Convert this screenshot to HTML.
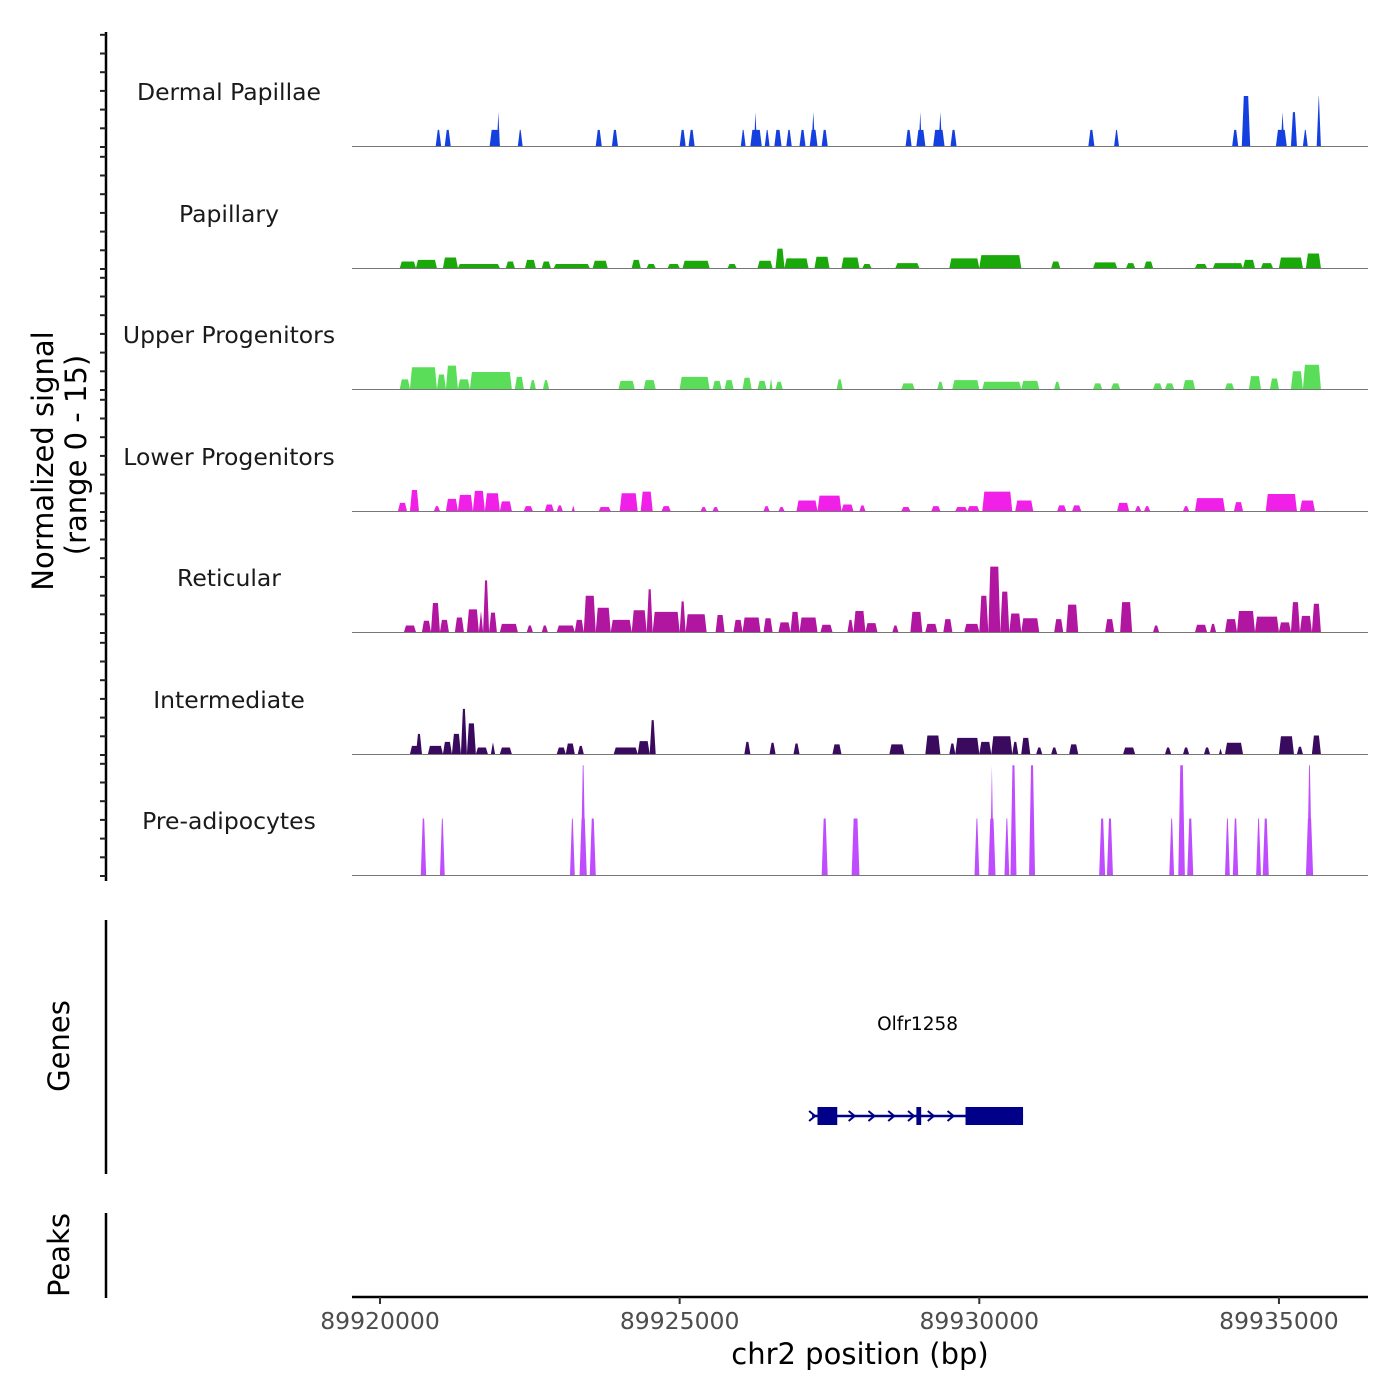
<!DOCTYPE html>
<html><head><meta charset="utf-8"><style>
body{margin:0;background:#fff}
svg{display:block;font-family:"DejaVu Sans","Liberation Sans",sans-serif}
</style></head><body>
<svg id="chart" width="1400" height="1400" viewBox="0 0 1400 1400">
<g id="left-axes"></g>
<g id="tracks"></g>
<g id="genes"></g>
<g id="xaxis"></g>
<text x="0" y="0" transform="translate(53,461) rotate(-90)" text-anchor="middle" font-size="29" fill="#000">Normalized signal</text>
<text x="0" y="0" transform="translate(86,455) rotate(-90)" text-anchor="middle" font-size="29" fill="#000">(range 0 - 15)</text>
<text x="0" y="0" transform="translate(69,1046) rotate(-90)" text-anchor="middle" font-size="29" fill="#000">Genes</text>
<text x="0" y="0" transform="translate(69,1255) rotate(-90)" text-anchor="middle" font-size="29" fill="#000">Peaks</text>
<text x="860" y="1364" text-anchor="middle" font-size="29" fill="#000">chr2 position (bp)</text>
</svg>
<script>
// data (positions in kb offset from 89920000, values 0-15)
const trackNames=["Dermal Papillae","Papillary","Upper Progenitors","Lower Progenitors","Reticular","Intermediate","Pre-adipocytes"];
const trackColors=["#1440e0","#1aa80a","#5ade5a","#f020e8","#b0169f","#3a0a5e","#bf4dff"];
const dermal=[[0.93,1.02,2],[1.08,1.18,2],[1.83,2.0,2],[1.95,2.0,4.2],[2.3,2.38,2],[3.6,3.7,2],[3.87,3.97,2],[5.0,5.1,2],[5.15,5.25,2],[6.02,6.1,2],[6.18,6.37,2],[6.24,6.29,4.2],[6.42,6.5,2],[6.58,6.7,2],[6.78,6.87,2],[7.0,7.1,2],[7.17,7.3,2],[7.2,7.26,4.2],[7.37,7.47,2],[8.77,8.87,2],[8.95,9.1,2],[8.99,9.04,4.2],[9.23,9.42,2],[9.32,9.38,4.2],[9.52,9.62,2],[11.82,11.92,2],[12.25,12.33,2],[14.22,14.32,2],[14.38,14.52,6.2],[14.95,15.13,2],[15.03,15.09,4.2],[15.2,15.3,4.2],[15.4,15.48,2],[15.63,15.7,6.2]];
const papillary=[[0.33,0.6,0.8],[0.6,0.95,1],[1.05,1.3,1.3],[1.3,2.0,0.5],[2.1,2.25,0.8],[2.42,2.6,1.0],[2.7,2.85,0.8],[2.9,3.5,0.5],[3.55,3.8,0.9],[4.2,4.35,1.0],[4.45,4.6,0.5],[4.8,5.0,0.5],[5.05,5.5,0.9],[5.8,5.95,0.5],[6.3,6.55,0.9],[6.6,6.75,2.4],[6.75,7.15,1.2],[7.25,7.5,1.4],[7.7,8.0,1.3],[8.05,8.2,0.5],[8.6,9.0,0.6],[9.5,10.0,1.2],[10.0,10.7,1.6],[11.2,11.35,0.8],[11.9,12.3,0.7],[12.45,12.6,0.6],[12.75,12.9,0.8],[13.6,13.8,0.5],[13.9,14.4,0.6],[14.4,14.6,1.0],[14.7,14.9,0.6],[15.0,15.4,1.3],[15.45,15.7,1.8]];
const upper=[[0.33,0.5,1.2],[0.5,0.95,2.7],[0.95,1.1,1.8],[1.1,1.3,2.9],[1.3,1.5,1.2],[1.5,2.2,2.1],[2.25,2.4,1.5],[2.5,2.6,1.1],[2.72,2.82,1.1],[3.98,4.25,1.0],[4.4,4.6,1.1],[5.0,5.5,1.5],[5.55,5.7,1.0],[5.75,5.9,1.1],[6.05,6.2,1.4],[6.3,6.45,1.0],[6.5,6.55,1.3],[6.6,6.72,0.9],[7.62,7.72,1.2],[8.7,8.92,0.7],[9.3,9.4,0.9],[9.55,10.0,1.1],[10.05,10.7,0.9],[10.7,11.0,1.0],[11.25,11.35,0.9],[11.9,12.05,0.7],[12.2,12.35,0.7],[12.9,13.05,0.7],[13.1,13.25,0.7],[13.4,13.6,1.1],[14.1,14.25,0.7],[14.5,14.7,1.6],[14.85,15.0,1.3],[15.2,15.4,2.2],[15.4,15.7,3.0]];
const lower=[[0.3,0.45,1.0],[0.5,0.65,2.6],[0.9,1.0,0.6],[1.1,1.3,1.5],[1.3,1.55,2.0],[1.55,1.75,2.5],[1.75,2.0,2.2],[2.0,2.2,1.2],[2.4,2.55,0.6],[2.75,2.9,0.8],[2.95,3.05,0.7],[3.2,3.25,0.7],[3.65,3.85,0.5],[4.0,4.3,2.2],[4.35,4.55,2.4],[4.7,4.85,0.6],[5.35,5.45,0.5],[5.55,5.65,0.5],[6.4,6.5,0.6],[6.65,6.75,0.5],[6.95,7.3,1.3],[7.3,7.7,1.9],[7.7,7.9,0.8],[8.0,8.1,0.7],[8.7,8.85,0.5],[9.2,9.35,0.6],[9.6,9.8,0.5],[9.8,10.0,0.6],[10.05,10.55,2.4],[10.6,10.9,1.3],[11.3,11.45,0.7],[11.55,11.7,0.7],[12.3,12.5,1.0],[12.6,12.7,0.6],[12.75,12.85,0.6],[13.4,13.5,0.6],[13.6,14.1,1.6],[14.25,14.4,1.1],[14.78,15.3,2.1],[15.15,15.25,0.7],[15.35,15.6,1.3]];
const reticular=[[0.4,0.6,0.8],[0.7,0.85,1.4],[0.85,1.0,3.6],[1.0,1.15,1.5],[1.25,1.4,1.8],[1.45,1.65,2.8],[1.65,1.72,2.5],[1.72,1.82,6.4],[1.82,1.95,2.4],[2.0,2.3,1.0],[2.45,2.55,0.8],[2.7,2.8,0.8],[2.95,3.25,0.8],[3.25,3.4,1.5],[3.4,3.6,4.5],[3.6,3.85,3.0],[3.85,4.2,1.5],[4.2,4.45,2.7],[4.45,4.55,5.3],[4.55,5.0,2.5],[5.0,5.1,3.8],[5.1,5.45,2.2],[5.6,5.75,2.1],[5.9,6.05,1.5],[6.05,6.35,1.8],[6.4,6.55,1.7],[6.65,6.85,1.2],[6.85,7.0,2.5],[7.0,7.3,1.8],[7.35,7.55,0.9],[7.8,7.9,1.5],[7.9,8.1,2.6],[8.1,8.3,1.1],[8.55,8.65,0.8],[8.85,9.05,2.5],[9.1,9.3,1.0],[9.4,9.55,1.6],[9.75,10.0,1.0],[10.0,10.15,4.5],[10.15,10.35,8.1],[10.35,10.5,5.0],[10.5,10.7,2.3],[10.7,11.0,1.7],[11.25,11.4,1.6],[11.45,11.65,3.4],[12.1,12.25,1.6],[12.35,12.55,3.7],[12.9,13.0,0.8],[13.6,13.8,0.9],[13.85,13.95,1.0],[14.1,14.3,1.6],[14.3,14.6,2.6],[14.6,15.0,1.9],[15.0,15.2,1.2],[15.2,15.35,3.7],[15.35,15.55,2.0],[15.55,15.7,3.5]];
const intermediate=[[0.5,0.7,1.0],[0.6,0.7,2.5],[0.8,1.05,1.0],[1.05,1.2,1.5],[1.2,1.35,2.5],[1.35,1.45,5.6],[1.45,1.6,3.8],[1.6,1.8,0.8],[1.85,1.92,1.4],[2.0,2.2,0.8],[2.95,3.1,0.8],[3.1,3.25,1.3],[3.3,3.4,1.0],[3.9,4.3,0.8],[4.3,4.5,1.6],[4.5,4.6,4.2],[6.08,6.18,1.5],[6.5,6.6,1.4],[6.9,7.0,1.3],[7.55,7.7,1.2],[8.5,8.75,1.2],[9.1,9.35,2.3],[9.5,9.6,1.3],[9.6,10.0,2.0],[10.0,10.2,1.5],[10.2,10.55,2.2],[10.55,10.65,1.5],[10.7,10.85,2.0],[10.95,11.05,0.8],[11.2,11.3,0.8],[11.5,11.65,1.2],[12.4,12.6,0.8],[13.1,13.2,0.8],[13.4,13.5,0.8],[13.75,13.85,0.8],[14.0,14.05,0.7],[14.1,14.4,1.4],[15.0,15.25,2.2],[15.3,15.4,0.9],[15.55,15.7,2.3]];
const preadipo=[[0.68,0.77,7],[1.0,1.08,7],[3.17,3.25,7],[3.33,3.45,7],[3.35,3.43,13.6],[3.5,3.6,7],[7.37,7.47,7],[7.87,8.0,7],[9.92,10.0,7],[10.15,10.27,7],[10.18,10.24,13.6],[10.42,10.5,7],[10.52,10.62,13.6],[10.83,10.93,13.6],[12.0,12.1,7],[12.13,12.23,7],[13.17,13.25,7],[13.32,13.43,13.6],[13.47,13.57,7],[14.1,14.18,7],[14.23,14.32,7],[14.62,14.7,7],[14.73,14.83,7],[15.45,15.57,7],[15.47,15.55,13.6]];
const trackData=[dermal,papillary,upper,lower,reticular,intermediate,preadipo];
const xTicks=[89920000,89925000,89930000,89935000];
const geneName="Olfr1258";
const geneRange=[7.21,10.73];
const geneExons=[[7.3,7.63],[8.95,9.03],[9.77,10.73]];

const NS="http://www.w3.org/2000/svg";
const svg=document.getElementById('chart');
function mk(tag,attrs,parent){const e=document.createElementNS(NS,tag);for(const k in attrs)e.setAttribute(k,attrs[k]);parent.appendChild(e);return e;}
const X0=380,PXKB=59.93;
function xs(kb){return X0+kb*PXKB;}
const baselines=[146,268,389,511,632,754,875];
const PXU=121/15;
function ys(i,v){return baselines[i]-v*PXU;}

const gT=document.getElementById('tracks');
trackData.forEach((arr,i)=>{
  const g=mk('g',{},gT);
  
  
  const lab=mk('text',{x:229,y:baselines[i]-46,'text-anchor':'middle','font-size':23.5,fill:'#1a1a1a'},g);
  lab.textContent=trackNames[i];
  
  
  arr.forEach(p=>{
    const a=xs(p[0]),b=xs(p[1]),d=Math.min(2,(b-a)/2),yb=baselines[i],yt=ys(i,p[2]);
    const poly=mk('polygon',{points:`${a},${yb} ${a+d},${yt} ${b-d},${yt} ${b},${yb}`,fill:trackColors[i]},g);
    
    
  });
  const bl=mk('line',{x1:352,x2:1368,y1:baselines[i]+0.5,y2:baselines[i]+0.5,stroke:'#777','stroke-width':1},g);
  
  
});

// left axes
const gL=document.getElementById('left-axes');
mk('line',{x1:106,x2:106,y1:32,y2:881,stroke:'#000','stroke-width':2.5},gL);
for(let i=0;i<7;i++){for(let k=0;k<7;k++){const y=baselines[i]+1-k*18.7;if(y<33)continue;mk('line',{x1:100,x2:106,y1:y,y2:y,stroke:'#222','stroke-width':2},gL);}}
mk('line',{x1:106,x2:106,y1:920,y2:1174,stroke:'#000','stroke-width':2.5},gL);
mk('line',{x1:106,x2:106,y1:1213,y2:1298,stroke:'#000','stroke-width':2.5},gL);

// gene
const gG=document.getElementById('genes');
const gl=mk('text',{x:xs((geneRange[0]+geneRange[1])/2),y:1030,'text-anchor':'middle','font-size':18.5,fill:'#000'},gG);
gl.textContent=geneName;


const gy=1116;
const gline=mk('line',{x1:xs(geneRange[0]),x2:xs(geneRange[1]),y1:gy,y2:gy,stroke:'#000088','stroke-width':2.5},gG);


for(let k=geneRange[0];k<geneRange[1];k+=0.33){const x=xs(k);mk('polyline',{points:`${x-3},${gy-5} ${x+3},${gy} ${x-3},${gy+5}`,fill:'none',stroke:'#000088','stroke-width':2},gG);}
geneExons.forEach(e=>{const r=mk('rect',{x:xs(e[0]),y:gy-9,width:xs(e[1])-xs(e[0]),height:18,fill:'#000088'},gG);

});

// x axis
const gX=document.getElementById('xaxis');
mk('line',{x1:352,x2:1368,y1:1297,y2:1297,stroke:'#000','stroke-width':2.5},gX);
xTicks.forEach(t=>{const x=xs((t-89920000)/1000);
mk('line',{x1:x,x2:x,y1:1297,y2:1304,stroke:'#333','stroke-width':2},gX);
const tx=mk('text',{x:x,y:1329,'text-anchor':'middle','font-size':23.5,fill:'#4d4d4d'},gX);
tx.textContent=t;

});
</script>
</body></html>
